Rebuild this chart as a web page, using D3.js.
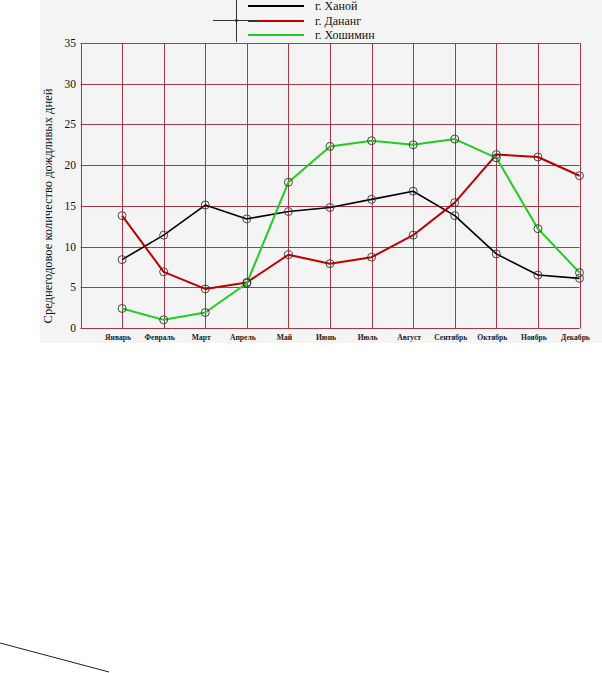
<!DOCTYPE html>
<html><head><meta charset="utf-8">
<script src="https://cdn.jsdelivr.net/npm/d3@7/dist/d3.min.js"></script>
<style>html,body{margin:0;padding:0;background:#fff;}svg{display:block;}</style>
</head><body>
<script>
const months = ["Январь","Февраль","Март","Апрель","Май","Июнь","Июль","Август","Сентябрь","Октябрь","Ноябрь","Декабрь"];
const hanoi   = [8.4, 11.4, 15.1, 13.4, 14.3, 14.8, 15.8, 16.8, 13.8, 9.1, 6.5, 6.1];
const danang  = [13.8, 6.9, 4.8, 5.6, 9.0, 7.9, 8.7, 11.4, 15.4, 21.3, 21.0, 18.7];
const hcm     = [2.4, 1.0, 1.9, 5.5, 17.9, 22.3, 23.0, 22.5, 23.2, 20.9, 12.2, 6.8];
const seriesNames = ["г. Ханой","г. Дананг","г. Хошимин"];
const yTicks = [0,5,10,15,20,25,30,35];
const yTitle = "Среднегодовое количество дождливых дней";

const series = [
  {name: seriesNames[0], values: hanoi,  color: "#000000", width: 1.6},
  {name: seriesNames[1], values: danang, color: "#c00000", width: 2},
  {name: seriesNames[2], values: hcm,    color: "#22cc22", width: 2}
];

const W = 602, H = 673;
const svg = d3.select("body").append("svg").attr("width", W).attr("height", H);

// background panel
svg.append("rect").attr("x", 40).attr("y", 0).attr("width", W - 40).attr("height", 343).attr("fill", "#f4f4f4");

const x = d3.scaleLinear().domain([0, 12]).range([80.5, 579.5]);
const y = d3.scaleLinear().domain([0, 35]).range([328, 43]);
const gridColor = "#a83848";

// grid
const g = svg.append("g");
g.selectAll("line.h").data(yTicks).join("line")
  .attr("x1", x(0)).attr("x2", x(12))
  .attr("y1", d => Math.round(y(d)) + 0.5).attr("y2", d => Math.round(y(d)) + 0.5)
  .attr("stroke", gridColor).attr("stroke-width", 1);
g.selectAll("line.v").data(d3.range(0, 13)).join("line")
  .attr("x1", d => Math.round(x(d)) + 0.5).attr("x2", d => Math.round(x(d)) + 0.5)
  .attr("y1", y(35)).attr("y2", y(0) + 0.5)
  .attr("stroke", gridColor).attr("stroke-width", 1);

// y tick labels
svg.selectAll("text.yt").data(yTicks).join("text")
  .attr("x", 76).attr("y", d => y(d) + 4)
  .attr("text-anchor", "end")
  .attr("font-family", "Liberation Serif, Times New Roman, serif")
  .attr("font-size", 11.5).attr("fill", "#111")
  .text(d => d);

// x tick labels
svg.selectAll("text.xt").data(months).join("text")
  .attr("x", (d, i) => x(i + 1) - 4).attr("y", 339.5)
  .attr("text-anchor", "middle")
  .attr("font-family", "Liberation Serif, Times New Roman, serif")
  .attr("font-weight", "bold")
  .attr("font-size", 7.6).attr("fill", "#222")
  .text(d => d);

// y title
svg.append("text")
  .attr("transform", `translate(52,${206}) rotate(-90)`)
  .attr("text-anchor", "middle")
  .attr("font-family", "Liberation Serif, Times New Roman, serif")
  .attr("font-size", 12.5).attr("fill", "#111")
  .text(yTitle);

// lines
const line = d3.line().x((d, i) => x(i + 1)).y(d => y(d));
series.forEach(s => {
  svg.append("path").datum(s.values)
    .attr("d", line).attr("fill", "none")
    .attr("stroke", s.color).attr("stroke-width", s.width)
    .attr("stroke-linejoin", "round");
});
series.forEach(s => {
  svg.append("g").selectAll("circle").data(s.values).join("circle")
    .attr("cx", (d, i) => x(i + 1)).attr("cy", d => y(d)).attr("r", 4)
    .attr("fill", "none").attr("stroke", "#333").attr("stroke-width", 0.9);
});

// legend
const legY = [6, 21, 35];
const leg = svg.append("g");
series.forEach((s, i) => {
  leg.append("line").attr("x1", 248).attr("x2", 304).attr("y1", legY[i]).attr("y2", legY[i])
    .attr("stroke", s.color).attr("stroke-width", 2);
  leg.append("text").attr("x", 315).attr("y", legY[i] + 4)
    .attr("font-family", "Liberation Serif, Times New Roman, serif")
    .attr("font-size", 12).attr("fill", "#111").text(s.name);
});
// crosshair artifact
leg.append("line").attr("x1", 236.5).attr("x2", 236.5).attr("y1", 0).attr("y2", 42).attr("stroke", "#333").attr("stroke-width", 1);
leg.append("line").attr("x1", 213).attr("x2", 259).attr("y1", 20.5).attr("y2", 20.5).attr("stroke", "#333").attr("stroke-width", 1);
leg.append("circle").attr("cx", 236.5).attr("cy", 20.5).attr("r", 1.6).attr("fill", "#333");

// stray line bottom-left
svg.append("line").attr("x1", 0).attr("y1", 643).attr("x2", 109).attr("y2", 672)
  .attr("stroke", "#222").attr("stroke-width", 1);
</script>
</body></html>
